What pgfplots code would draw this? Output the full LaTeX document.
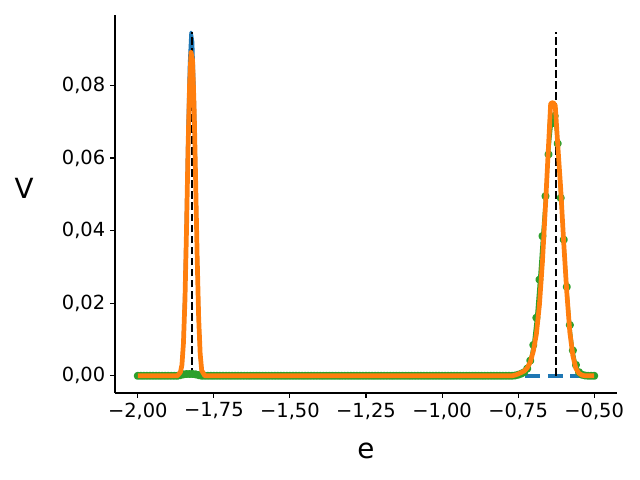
\documentclass[border=0pt]{standalone}
\usepackage{pgfplots}
\pgfplotsset{compat=1.18}
\usepackage{fontspec}
\setmainfont{DejaVu Sans}
\definecolor{tabblue}{HTML}{1F77B4}
\definecolor{taborange}{HTML}{FF7F0E}
\definecolor{tabgreen}{HTML}{2CA02C}
\begin{document}
\begin{tikzpicture}
\useasboundingbox (-82.8pt,-62.64pt) rectangle (378pt,282.96pt);
\begin{axis}[
    at={(0,0)}, anchor=south west,
    scale only axis,
    width=361.44pt, height=272.16pt,
    xmin=-2.075, xmax=-0.425,
    ymin=-0.00473, ymax=0.0994,
    scaled y ticks=false,
    clip marker paths=true,
    axis x line*=bottom, axis y line*=left,
    axis line style={line width=0.8pt, -},
    tick align=outside, major tick length=3.5pt,
    tick style={line width=0.8pt, black},
    xtick={-2,-1.75,-1.5,-1.25,-1,-0.75,-0.5},
    xticklabels={{−2,00},{−1,75},{−1,50},{−1,25},{−1,00},{−0,75},{−0,50}},
    ytick={0,0.02,0.04,0.06,0.08},
    yticklabels={{0,00},{0,02},{0,04},{0,06},{0,08}},
    ticklabel style={font=\fontsize{14}{16}\selectfont},
    xlabel={e}, ylabel={V},
    label style={font=\fontsize{20}{24}\selectfont},
    xlabel style={at={(axis description cs:0.5,-0.172)}, anchor=base},
    ylabel style={at={(axis description cs:-0.181,0.542)}, anchor=center, rotate=-90},
]
% blue
\addplot[tabblue, line width=2.5pt, line join=round] coordinates {
(-2.00,0) (-1.87,0) (-1.86,0.0008) (-1.855,0.003) (-1.85,0.010) (-1.845,0.024)
(-1.84,0.045) (-1.835,0.068) (-1.83,0.086) (-1.825,0.0946) (-1.82,0.092)
(-1.815,0.078) (-1.81,0.056) (-1.805,0.034) (-1.80,0.016) (-1.795,0.006)
(-1.79,0.0015) (-1.78,0) (-0.80,0)};
\addplot[tabblue, line width=2.5pt, dash pattern=on 10.8pt off 5.4pt] coordinates {
(-0.80,0) (-0.50,0)};
% reference lines
\addplot[black, line width=1.5pt, dash pattern=on 5.55pt off 2.4pt] coordinates {(-1.822,0) (-1.822,0.0946)};
\addplot[black, line width=1.5pt, dash pattern=on 5.55pt off 2.4pt] coordinates {(-0.625,0) (-0.625,0.0946)};
% green
\addplot[tabgreen, line width=2.2pt, line join=round, mark=*, mark size=1.8pt] coordinates {
(-2.00,0) (-1.99,0) (-1.98,0) (-1.97,0) (-1.96,0) (-1.95,0) (-1.94,0) (-1.93,0) (-1.92,0) (-1.91,0)
(-1.90,0) (-1.89,0) (-1.88,0) (-1.87,0)
(-1.86,0.0002) (-1.85,0.0004) (-1.84,0.0005) (-1.83,0.0005) (-1.82,0.0005) (-1.81,0.0004) (-1.80,0.0002)
(-1.79,0) (-1.78,0) (-1.77,0) (-1.76,0) (-1.75,0) (-1.74,0) (-1.73,0) (-1.72,0) (-1.71,0) (-1.70,0)
(-1.69,0) (-1.68,0) (-1.67,0) (-1.66,0) (-1.65,0) (-1.64,0) (-1.63,0) (-1.62,0) (-1.61,0) (-1.60,0)
(-1.59,0) (-1.58,0) (-1.57,0) (-1.56,0) (-1.55,0) (-1.54,0) (-1.53,0) (-1.52,0) (-1.51,0) (-1.50,0)
(-1.49,0) (-1.48,0) (-1.47,0) (-1.46,0) (-1.45,0) (-1.44,0) (-1.43,0) (-1.42,0) (-1.41,0) (-1.40,0)
(-1.39,0) (-1.38,0) (-1.37,0) (-1.36,0) (-1.35,0) (-1.34,0) (-1.33,0) (-1.32,0) (-1.31,0) (-1.30,0)
(-1.29,0) (-1.28,0) (-1.27,0) (-1.26,0) (-1.25,0) (-1.24,0) (-1.23,0) (-1.22,0) (-1.21,0) (-1.20,0)
(-1.19,0) (-1.18,0) (-1.17,0) (-1.16,0) (-1.15,0) (-1.14,0) (-1.13,0) (-1.12,0) (-1.11,0) (-1.10,0)
(-1.09,0) (-1.08,0) (-1.07,0) (-1.06,0) (-1.05,0) (-1.04,0) (-1.03,0) (-1.02,0) (-1.01,0) (-1.00,0)
(-0.99,0) (-0.98,0) (-0.97,0) (-0.96,0) (-0.95,0) (-0.94,0) (-0.93,0) (-0.92,0) (-0.91,0) (-0.90,0)
(-0.89,0) (-0.88,0) (-0.87,0) (-0.86,0) (-0.85,0) (-0.84,0) (-0.83,0) (-0.82,0) (-0.81,0) (-0.80,0)
(-0.79,0) (-0.78,0) (-0.77,0)
(-0.76,0.0001) (-0.75,0.0003) (-0.74,0.0006) (-0.73,0.0010) (-0.72,0.0020) (-0.71,0.0042)
(-0.70,0.0085) (-0.69,0.0160) (-0.68,0.0265) (-0.67,0.0385) (-0.66,0.0495) (-0.65,0.0610)
(-0.64,0.0695) (-0.63,0.0716) (-0.62,0.0640) (-0.61,0.0490) (-0.60,0.0375) (-0.59,0.0245)
(-0.58,0.0140) (-0.57,0.0070) (-0.56,0.0030) (-0.55,0.0010) (-0.54,0.0003) (-0.53,0.0001)
(-0.52,0) (-0.51,0) (-0.50,0)};
% orange
\addplot[taborange, line width=3.4pt, line join=round] coordinates {
(-2.00,0) (-1.87,0) (-1.86,0.0010) (-1.855,0.003) (-1.85,0.009) (-1.845,0.021)
(-1.84,0.040) (-1.835,0.062) (-1.83,0.080) (-1.825,0.0891) (-1.82,0.087)
(-1.815,0.074) (-1.81,0.054) (-1.805,0.033) (-1.80,0.016) (-1.795,0.006)
(-1.79,0.0015) (-1.78,0) (-0.77,0) (-0.76,0.0002) (-0.75,0.0005) (-0.74,0.0009)
(-0.73,0.0013) (-0.72,0.0022) (-0.71,0.0038) (-0.70,0.0068) (-0.69,0.0115)
(-0.68,0.0195) (-0.67,0.0315) (-0.66,0.0470) (-0.65,0.0635) (-0.643,0.0750)
(-0.635,0.0753) (-0.628,0.0745) (-0.62,0.0640) (-0.61,0.0515) (-0.60,0.0365)
(-0.59,0.0230) (-0.58,0.0120) (-0.57,0.0055) (-0.56,0.0020) (-0.55,0.0007)
(-0.54,0.0002) (-0.53,0) (-0.50,0)};
\end{axis}
\end{tikzpicture}
\end{document}
